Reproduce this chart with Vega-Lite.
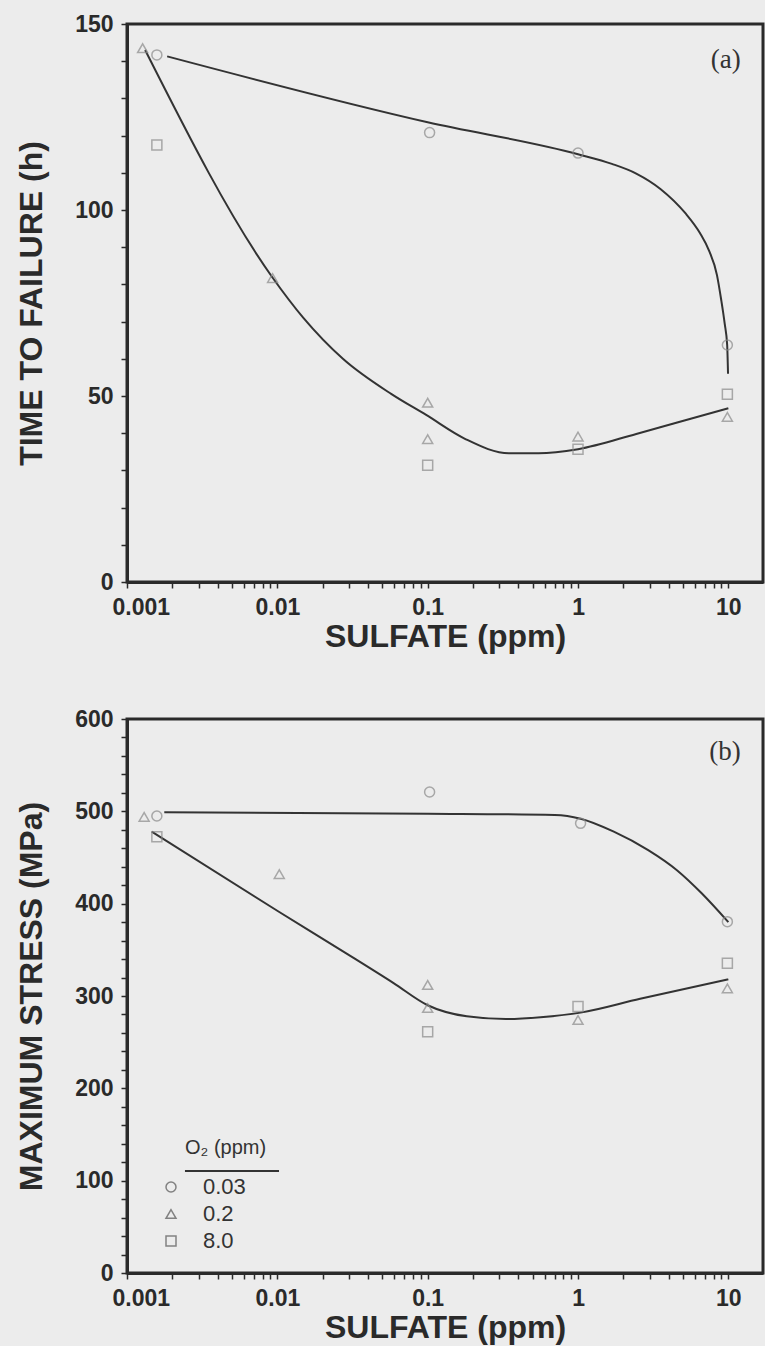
{
  "$schema": "https://vega.github.io/schema/vega-lite/v6.json",
  "background": "#ececec",
  "padding": {"left": 14, "top": 11, "right": 0, "bottom": 1},
  "spacing": 52,
  "config": {
    "view": {"stroke": "#2a2a2a", "strokeWidth": 3},
    "axis": {
      "grid": false,
      "labelOverlap": false,
      "domainColor": "#2a2a2a",
      "domainWidth": 3,
      "tickColor": "#2a2a2a",
      "tickWidth": 1.5,
      "tickSize": 6,
      "labelFont": "Liberation Sans",
      "labelFontSize": 23,
      "labelFontWeight": "bold",
      "labelColor": "#2a2a2a",
      "titleFont": "Liberation Sans",
      "titleFontSize": 32,
      "titleFontWeight": "bold",
      "titleColor": "#2a2a2a"
    },
    "axisX": {"labelPadding": 8, "titlePadding": 2, "labelOverlap": false},
    "axisY": {"labelPadding": 8, "titlePadding": 26, "labelOverlap": false}
  },
  "datasets": {
    "curvesA": [
      {"x": 0.00185, "y": 141.3, "curve": "a1"},
      {"x": 0.1, "y": 123.6, "curve": "a1"},
      {"x": 1.0, "y": 115.0, "curve": "a1"},
      {"x": 1.68, "y": 112.4, "curve": "a1"},
      {"x": 2.44, "y": 109.8, "curve": "a1"},
      {"x": 3.55, "y": 105.6, "curve": "a1"},
      {"x": 5.16, "y": 99.2, "curve": "a1"},
      {"x": 6.47, "y": 93.8, "curve": "a1"},
      {"x": 7.45, "y": 89.0, "curve": "a1"},
      {"x": 8.4, "y": 82.5, "curve": "a1"},
      {"x": 8.95, "y": 76.0, "curve": "a1"},
      {"x": 9.45, "y": 69.5, "curve": "a1"},
      {"x": 9.82, "y": 63.7, "curve": "a1"},
      {"x": 9.95, "y": 56.0, "curve": "a1"},
      {"x": 0.00132, "y": 143.0, "curve": "a2"},
      {"x": 0.00923, "y": 82.0, "curve": "a2"},
      {"x": 0.0149, "y": 71.0, "curve": "a2"},
      {"x": 0.0273, "y": 60.0, "curve": "a2"},
      {"x": 0.0575, "y": 50.5, "curve": "a2"},
      {"x": 0.0977, "y": 44.9, "curve": "a2"},
      {"x": 0.177, "y": 38.5, "curve": "a2"},
      {"x": 0.347, "y": 34.6, "curve": "a2"},
      {"x": 0.546, "y": 34.6, "curve": "a2"},
      {"x": 1.0, "y": 35.7, "curve": "a2"},
      {"x": 2.44, "y": 39.8, "curve": "a2"},
      {"x": 5.17, "y": 43.5, "curve": "a2"},
      {"x": 10.0, "y": 46.7, "curve": "a2"}
    ],
    "pointsA": [
      {"x": 0.00127, "y": 143.5, "o2": "0.2"},
      {"x": 0.00158, "y": 141.7, "o2": "0.03"},
      {"x": 0.00158, "y": 117.5, "o2": "8.0"},
      {"x": 0.0093, "y": 81.7, "o2": "0.2"},
      {"x": 0.103, "y": 120.8, "o2": "0.03"},
      {"x": 0.1, "y": 48.2, "o2": "0.2"},
      {"x": 0.1, "y": 38.4, "o2": "0.2"},
      {"x": 0.1, "y": 31.4, "o2": "8.0"},
      {"x": 1.0, "y": 115.3, "o2": "0.03"},
      {"x": 1.0, "y": 39.1, "o2": "0.2"},
      {"x": 1.0, "y": 35.7, "o2": "8.0"},
      {"x": 9.85, "y": 63.7, "o2": "0.03"},
      {"x": 9.85, "y": 50.5, "o2": "8.0"},
      {"x": 9.85, "y": 44.4, "o2": "0.2"}
    ],
    "curvesB": [
      {"x": 0.00177, "y": 499, "curve": "b1"},
      {"x": 0.1, "y": 497.5, "curve": "b1"},
      {"x": 0.7, "y": 496, "curve": "b1"},
      {"x": 1.04, "y": 492, "curve": "b1"},
      {"x": 1.73, "y": 478, "curve": "b1"},
      {"x": 2.93, "y": 458, "curve": "b1"},
      {"x": 4.57, "y": 436, "curve": "b1"},
      {"x": 6.67, "y": 411, "curve": "b1"},
      {"x": 10.0, "y": 380, "curve": "b1"},
      {"x": 0.00146, "y": 478, "curve": "b2"},
      {"x": 0.0103, "y": 391, "curve": "b2"},
      {"x": 0.0282, "y": 347, "curve": "b2"},
      {"x": 0.0593, "y": 314, "curve": "b2"},
      {"x": 0.1, "y": 290, "curve": "b2"},
      {"x": 0.182, "y": 278, "curve": "b2"},
      {"x": 0.331, "y": 275, "curve": "b2"},
      {"x": 0.563, "y": 277, "curve": "b2"},
      {"x": 1.04, "y": 282, "curve": "b2"},
      {"x": 2.59, "y": 297, "curve": "b2"},
      {"x": 10.0, "y": 318, "curve": "b2"}
    ],
    "pointsB": [
      {"x": 0.0013, "y": 494, "o2": "0.2"},
      {"x": 0.00158, "y": 495, "o2": "0.03"},
      {"x": 0.00158, "y": 472.5, "o2": "8.0"},
      {"x": 0.0103, "y": 432, "o2": "0.2"},
      {"x": 0.103, "y": 521, "o2": "0.03"},
      {"x": 0.1, "y": 312, "o2": "0.2"},
      {"x": 0.1, "y": 287, "o2": "0.2"},
      {"x": 0.1, "y": 261.4, "o2": "8.0"},
      {"x": 1.04, "y": 487, "o2": "0.03"},
      {"x": 1.0, "y": 288.7, "o2": "8.0"},
      {"x": 1.0, "y": 274, "o2": "0.2"},
      {"x": 9.85, "y": 380.5, "o2": "0.03"},
      {"x": 9.85, "y": 335.4, "o2": "8.0"},
      {"x": 9.85, "y": 308.3, "o2": "0.2"}
    ],
    "labelsA": [{"x": 9.6, "y": 140.3, "text": "(a)"}],
    "labelsB": [{"x": 9.5, "y": 564, "text": "(b)"}],
    "legendRule": [{"x": 0.00243, "x2": 0.01026, "y": 110.5}]
  },
  "vconcat": [
    {
      "width": 636,
      "height": 558,
      "layer": [
        {
          "data": {"name": "curvesA"},
          "mark": {"type": "line", "interpolate": "monotone", "color": "#333333", "strokeWidth": 2},
          "encoding": {
            "x": {
              "field": "x", "type": "quantitative",
              "scale": {"type": "log", "domain": [0.001, 17], "nice": false},
              "axis": {
                "title": "SULFATE (ppm)",
                "values": [0.001,0.002,0.003,0.004,0.005,0.006,0.007,0.008,0.009,0.01,0.02,0.03,0.04,0.05,0.06,0.07,0.08,0.09,0.1,0.2,0.3,0.4,0.5,0.6,0.7,0.8,0.9,1,2,3,4,5,6,7,8,9,10],
                "tickCount": 200,
                "format": ".3~f",
                "labelExpr": "indexof(['0.001','0.01','0.1','1','10'], datum.label) >= 0 ? datum.label : ''",
                "labelOverlap": false,
                "labelFlush": true,
                "labelFlushOffset": 15
              }
            },
            "y": {
              "field": "y", "type": "quantitative",
              "scale": {"domain": [0, 150], "nice": false},
              "axis": {
                "title": "TIME TO FAILURE (h)",
                "values": [0,10,20,30,40,50,60,70,80,90,100,110,120,130,140,150],
                "tickCount": 200,
                "labelOverlap": false,
                "labelExpr": "datum.value % 50 === 0 ? datum.label : ''"
              }
            },
            "detail": {"field": "curve"}
          }
        },
        {
          "data": {"name": "pointsA"},
          "mark": {"type": "point", "filled": false, "color": "#8a8a8a", "size": 100, "strokeWidth": 1.5},
          "encoding": {
            "x": {"field": "x", "type": "quantitative"},
            "y": {"field": "y", "type": "quantitative"},
            "shape": {
              "field": "o2", "type": "nominal",
              "scale": {"domain": ["0.03", "0.2", "8.0"], "range": ["circle", "triangle-up", "square"]},
              "legend": null
            }
          }
        },
        {
          "data": {"name": "labelsA"},
          "mark": {"type": "text", "font": "Liberation Serif", "fontSize": 27, "color": "#333333"},
          "encoding": {
            "x": {"field": "x", "type": "quantitative"},
            "y": {"field": "y", "type": "quantitative"},
            "text": {"field": "text"}
          }
        }
      ]
    },
    {
      "width": 636,
      "height": 554,
      "layer": [
        {
          "data": {"name": "curvesB"},
          "mark": {"type": "line", "interpolate": "monotone", "color": "#333333", "strokeWidth": 2},
          "encoding": {
            "x": {
              "field": "x", "type": "quantitative",
              "scale": {"type": "log", "domain": [0.001, 17], "nice": false},
              "axis": {
                "title": "SULFATE (ppm)",
                "values": [0.001,0.002,0.003,0.004,0.005,0.006,0.007,0.008,0.009,0.01,0.02,0.03,0.04,0.05,0.06,0.07,0.08,0.09,0.1,0.2,0.3,0.4,0.5,0.6,0.7,0.8,0.9,1,2,3,4,5,6,7,8,9,10],
                "tickCount": 200,
                "format": ".3~f",
                "labelExpr": "indexof(['0.001','0.01','0.1','1','10'], datum.label) >= 0 ? datum.label : ''",
                "labelOverlap": false,
                "labelFlush": true,
                "labelFlushOffset": 15
              }
            },
            "y": {
              "field": "y", "type": "quantitative",
              "scale": {"domain": [0, 600], "nice": false},
              "axis": {
                "title": "MAXIMUM STRESS (MPa)",
                "values": [0,20,40,60,80,100,120,140,160,180,200,220,240,260,280,300,320,340,360,380,400,420,440,460,480,500,520,540,560,580,600],
                "tickCount": 200,
                "labelOverlap": false,
                "labelExpr": "datum.value % 100 === 0 ? datum.label : ''"
              }
            },
            "detail": {"field": "curve"}
          }
        },
        {
          "data": {"name": "pointsB"},
          "mark": {"type": "point", "filled": false, "color": "#8a8a8a", "size": 100, "strokeWidth": 1.5},
          "encoding": {
            "x": {"field": "x", "type": "quantitative"},
            "y": {"field": "y", "type": "quantitative"},
            "shape": {
              "field": "o2", "type": "nominal",
              "scale": {"domain": ["0.03", "0.2", "8.0"], "range": ["circle", "triangle-up", "square"]},
              "legend": {
                "title": "O₂ (ppm)",
                "orient": "none",
                "legendX": 58,
                "legendY": 419,
                "titleFont": "Liberation Sans",
                "titleFontSize": 20,
                "titleFontWeight": "normal",
                "titleColor": "#333333",
                "titlePadding": 18,
                "labelFont": "Liberation Sans",
                "labelFontSize": 22,
                "labelColor": "#333333",
                "labelOffset": 21,
                "symbolOffset": -25,
                "symbolSize": 100,
                "symbolStrokeColor": "#555555",
                "symbolFillColor": "transparent",
                "symbolStrokeWidth": 1.5,
                "rowPadding": 5
              }
            }
          }
        },
        {
          "data": {"name": "legendRule"},
          "mark": {"type": "rule", "color": "#333333", "strokeWidth": 2},
          "encoding": {
            "x": {"field": "x", "type": "quantitative"},
            "x2": {"field": "x2"},
            "y": {"field": "y", "type": "quantitative"}
          }
        },
        {
          "data": {"name": "labelsB"},
          "mark": {"type": "text", "font": "Liberation Serif", "fontSize": 27, "color": "#333333"},
          "encoding": {
            "x": {"field": "x", "type": "quantitative"},
            "y": {"field": "y", "type": "quantitative"},
            "text": {"field": "text"}
          }
        }
      ]
    }
  ],
  "resolve": {
    "scale": {"x": "independent", "y": "independent", "shape": "independent"},
    "legend": {"shape": "independent"}
  }
}
